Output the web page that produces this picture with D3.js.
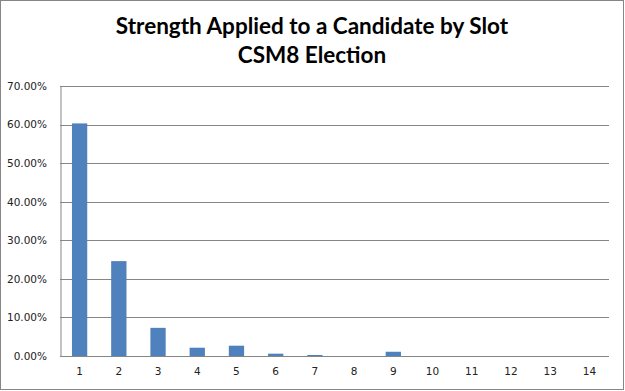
<!DOCTYPE html>
<html>
<head>
<meta charset="utf-8">
<script src="https://cdn.jsdelivr.net/npm/d3@7"></script>
<style>
    body { margin: 0; background: #fff; }
    svg { display: block; }
    .axis text { font-family: "DejaVu Sans", Verdana, sans-serif; font-size: 10.5px; fill: #222; }
</style>
</head>
<body>
<svg id="chart"></svg>
<script>
// chart data
const titleLines = ["Strength Applied to a Candidate by Slot", "CSM8 Election"];
const slots = ["1", "2", "3", "4", "5", "6", "7", "8", "9", "10", "11", "12", "13", "14"];
const strength = [0.603, 0.246, 0.073, 0.0215, 0.0267, 0.006, 0.0026, 0, 0.011, 0, 0, 0, 0, 0];
const yTicks = [0, 0.1, 0.2, 0.3, 0.4, 0.5, 0.6, 0.7];

const width = 625, height = 391;
const margin = { top: 86, right: 16, bottom: 35, left: 60 };
const innerW = width - margin.left - margin.right;
const innerH = height - margin.top - margin.bottom;

const svg = d3.select("#chart")
    .attr("width", width)
    .attr("height", height);

// outer border
svg.append("rect")
    .attr("x", 0.5).attr("y", 0.5)
    .attr("width", width - 2).attr("height", height - 2)
    .attr("fill", "#fff")
    .attr("stroke", "#868686");

// title
svg.append("text")
    .attr("x", 312)
    .attr("text-anchor", "middle")
    .attr("font-family", "Lato, 'Open Sans', sans-serif")
    .attr("font-weight", "bold")
    .attr("font-size", "22.5px")
    .attr("fill", "#000")
    .selectAll("tspan")
    .data(titleLines)
    .join("tspan")
        .attr("x", 312)
        .attr("y", (d, i) => 34 + i * 29)
        .text(d => d);

const chart = svg.append("g")
    .attr("transform", `translate(${margin.left},${margin.top})`);

// scales
const xScale = d3.scaleBand()
    .domain(slots)
    .range([0, innerW])
    .paddingInner(0.61)
    .paddingOuter(0.305);

const yScale = d3.scaleLinear()
    .domain([0, 0.7])
    .range([innerH, 0]);

// gridlines
chart.append("g")
    .selectAll("line")
    .data(yTicks)
    .join("line")
        .attr("x1", 0)
        .attr("x2", innerW)
        .attr("y1", d => Math.round(yScale(d)) + 0.5)
        .attr("y2", d => Math.round(yScale(d)) + 0.5)
        .attr("stroke", "#868686");

// y axis
const yAxis = d3.axisLeft(yScale)
    .tickValues(yTicks)
    .tickFormat(d3.format(".2%"))
    .tickSize(0)
    .tickPadding(13);

const yAxisGroup = chart.append("g")
    .attr("class", "axis y-axis")
    .attr("font-family", null)
    .call(yAxis);
yAxisGroup.select(".domain")
    .attr("stroke", "#868686")
    .attr("transform", "translate(0.5,0)");

// bars
chart.selectAll("rect.bar")
    .data(strength)
    .join("rect")
        .attr("class", "bar")
        .attr("fill", "#4F81BD")
        .attr("x", (d, i) => xScale(slots[i]))
        .attr("width", xScale.bandwidth())
        .attr("y", d => yScale(d))
        .attr("height", d => innerH - yScale(d));

// x axis
const xAxis = d3.axisBottom(xScale)
    .tickSize(0)
    .tickPadding(12);

const xAxisGroup = chart.append("g")
    .attr("class", "axis x-axis")
    .attr("transform", `translate(0,${innerH})`)
    .call(xAxis);
xAxisGroup.select(".domain").remove();
</script>
</body>
</html>
